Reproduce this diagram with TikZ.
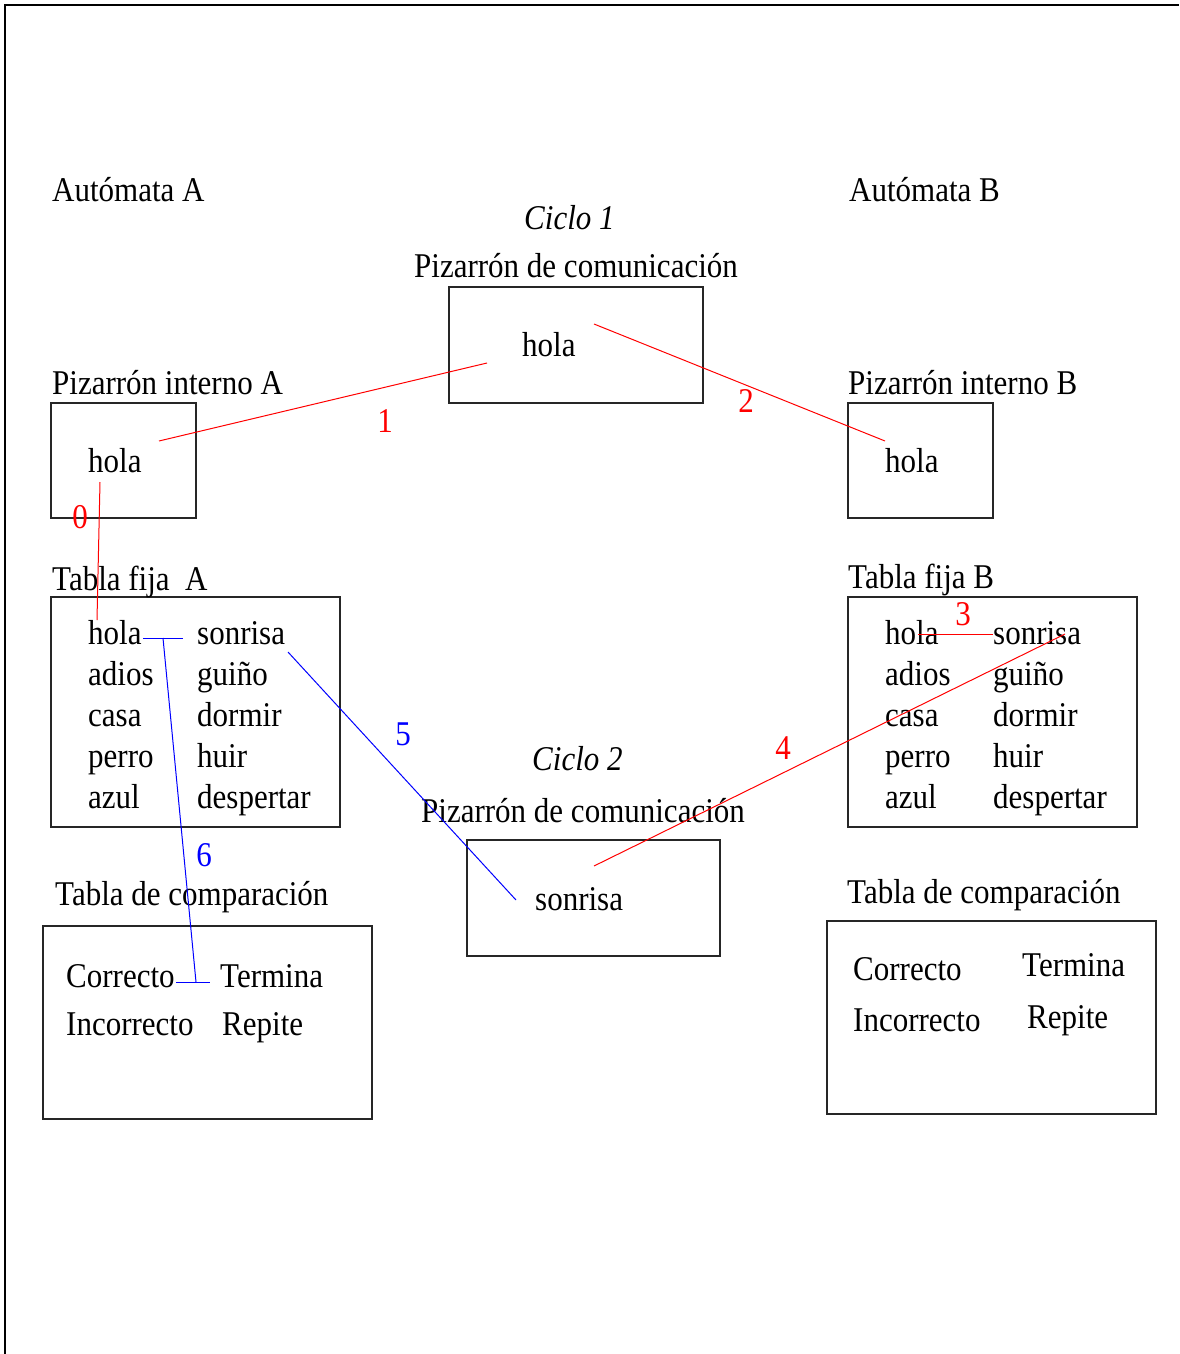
\documentclass[tikz,border=0pt]{standalone}
\usepackage{fontspec}
\setmainfont{Liberation Serif}
\usepackage{graphicx}
\newcommand\vs[1]{\scalebox{1}[1.12]{#1}}
\tikzset{
  lbl/.style={anchor=base west, inner sep=0pt, font=\fontsize{31}{36}\selectfont},
  box/.style={draw=black!85, line width=1.2pt, minimum width=#1, inner sep=0pt},
  rl/.style={draw=red, line width=1pt},
  bl/.style={draw=blue, line width=1pt},
  rnum/.style={text=red, inner sep=0pt, font=\fontsize{31}{36}\selectfont},
  bnum/.style={text=blue, inner sep=0pt, font=\fontsize{31}{36}\selectfont},
}
\begin{document}
\begin{tikzpicture}[x=1pt,y=-1pt]
\useasboundingbox (0,0) rectangle (1179,1354);
% frame
\draw[line width=2pt] (5,1354) -- (5,5) -- (1179,5);

% titles
\node[lbl] (autA) at (52,201) {\vs{Autómata A}};
\node[lbl] (autB) at (849,201) {\vs{Autómata B}};
\node[lbl] (ciclo1) at (524,229) {\vs{\itshape Ciclo 1}};
\node[lbl] (pc1lbl) at (414,277) {\vs{Pizarrón de comunicación}};

% boxes
\node[box=254pt, minimum height=116pt] (pcom1) at (576,345) {};
\node[box=145pt, minimum height=115pt] (piA) at (123.5,460.5) {};
\node[box=145pt, minimum height=115pt] (piB) at (920.5,460.5) {};
\node[box=289pt, minimum height=230pt] (tfA) at (195.5,712) {};
\node[box=289pt, minimum height=230pt] (tfB) at (992.5,712) {};
\node[box=253pt, minimum height=116pt] (pcom2) at (593.5,898) {};
\node[box=329pt, minimum height=193pt] (tcA) at (207.5,1022.5) {};
\node[box=329pt, minimum height=193pt] (tcB) at (991.5,1017.5) {};

% box contents / labels
\node[lbl] (hola1) at (522,356) {\vs{hola}};
\node[lbl] (piAlbl) at (52,394) {\vs{Pizarrón interno A}};
\node[lbl] (piBlbl) at (848,394) {\vs{Pizarrón interno B}};
\node[lbl] (holaA) at (88,472) {\vs{hola}};
\node[lbl] (holaB) at (885,472) {\vs{hola}};

\node[lbl] (tfAlbl) at (52,590) {\vs{Tabla fija\ \ A}};
\node[lbl] (tfBlbl) at (848,588) {\vs{Tabla fija B}};

\foreach \w/\v [count=\i from 0] in {hola/sonrisa,adios/guiño,casa/dormir,perro/huir,azul/despertar}{
  \node[lbl] (tfAa\i) at (88,644+41*\i) {\vs{\w}};
  \node[lbl] (tfAb\i) at (197,644+41*\i) {\vs{\v}};
  \node[lbl] (tfBa\i) at (885,644+41*\i) {\vs{\w}};
  \node[lbl] (tfBb\i) at (993,644+41*\i) {\vs{\v}};
}

\node[lbl] (ciclo2) at (532,770) {\vs{\itshape Ciclo 2}};
\node[lbl] (pc2lbl) at (421,822) {\vs{Pizarrón de comunicación}};
\node[lbl] (sonr) at (535,910) {\vs{sonrisa}};

\node[lbl] (tcAlbl) at (55,905) {\vs{Tabla de comparación}};
\node[lbl] (tcBlbl) at (847,903) {\vs{Tabla de comparación}};
\node[lbl] (corA) at (66,987) {\vs{Correcto}};
\node[lbl] (incA) at (66,1035) {\vs{Incorrecto}};
\node[lbl] (terA) at (220,987) {\vs{Termina}};
\node[lbl] (repA) at (222,1035) {\vs{Repite}};
\node[lbl] (corB) at (853,980) {\vs{Correcto}};
\node[lbl] (incB) at (853,1031) {\vs{Incorrecto}};
\node[lbl] (terB) at (1022,976) {\vs{Termina}};
\node[lbl] (repB) at (1027,1028) {\vs{Repite}};

% connector end points
\coordinate (r0a) at (100,482);
\coordinate (r0b) at (97,620);
\coordinate (r1a) at (159,441);
\coordinate (r1b) at (487,363);
\coordinate (r2a) at (594,324);
\coordinate (r2b) at (885,441);
\coordinate (r3a) at (918,634);
\coordinate (r3b) at (993,634);
\coordinate (r4a) at (1065,634);
\coordinate (r4b) at (594,866);
\coordinate (b5a) at (288,652);
\coordinate (b5b) at (516,900);
\coordinate (b6h1) at (143,638);
\coordinate (b6h2) at (183,638);
\coordinate (b6a) at (163,638);
\coordinate (b6b) at (196,982);
\coordinate (b6c1) at (176,982);
\coordinate (b6c2) at (210,982);

% red connectors
\draw[rl] (r0a) -- (r0b);
\draw[rl] (r1a) -- (r1b);
\draw[rl] (r2a) -- (r2b);
\draw[rl] (r3a) -- (r3b);
\draw[rl] (r4a) -- (r4b);
% blue connectors
\draw[bl] (b5a) -- (b5b);
\draw[bl] (b6h1) -- (b6h2);
\draw[bl] (b6a) -- (b6b);
\draw[bl] (b6c1) -- (b6c2);

% step numbers
\node[rnum] (n0) at (80,517) {\vs{0}};
\node[rnum] (n1) at (385,421) {\vs{1}};
\node[rnum] (n2) at (746,401) {\vs{2}};
\node[rnum] (n3) at (963,614) {\vs{3}};
\node[rnum] (n4) at (783,748) {\vs{4}};
\node[bnum] (n5) at (403,734) {\vs{5}};
\node[bnum] (n6) at (204,855) {\vs{6}};
\end{tikzpicture}
\end{document}
